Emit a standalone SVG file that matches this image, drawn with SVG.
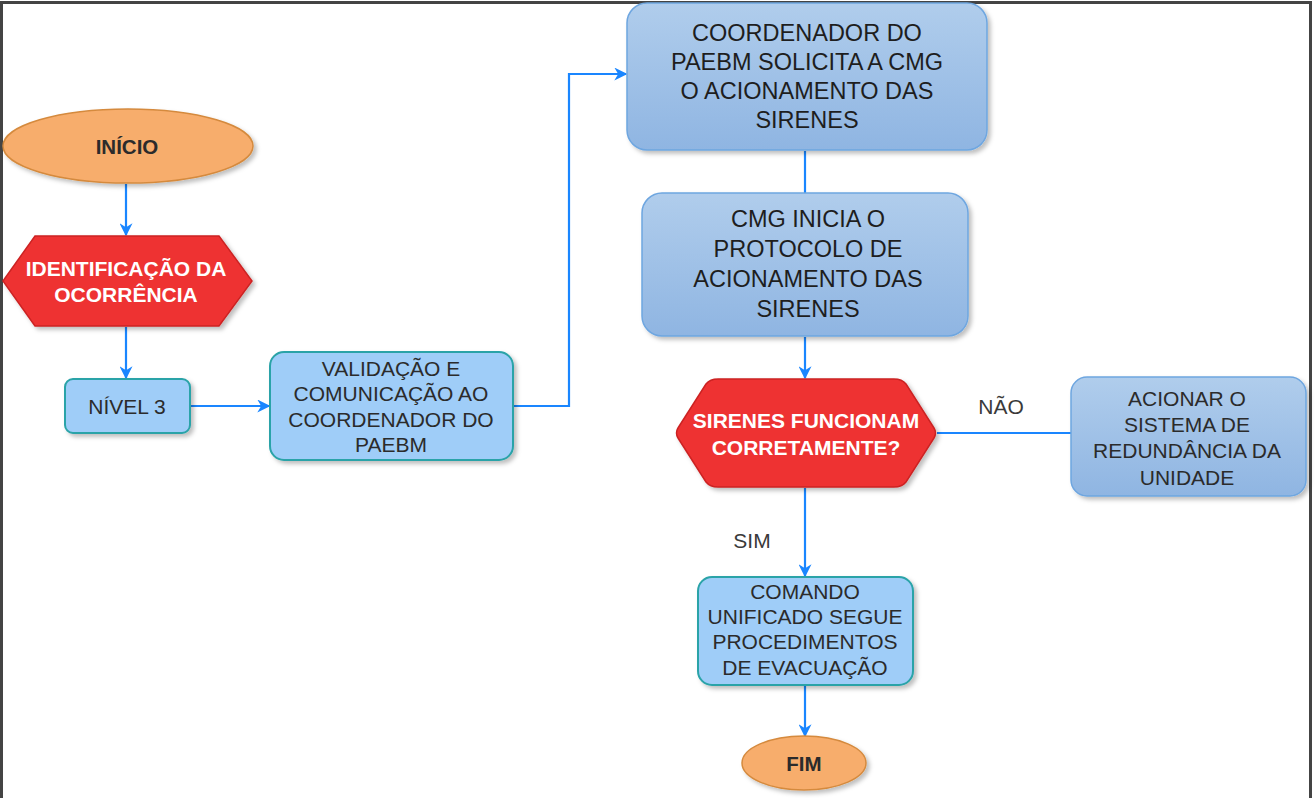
<svg xmlns="http://www.w3.org/2000/svg" width="1315" height="798" viewBox="0 0 1315 798">
<style>
text{font-family:"Liberation Sans",Arial,sans-serif;text-anchor:middle}
.t{fill:#2b2b2b;font-size:21px}
.tb{fill:#1e1e1e;font-size:23.5px}
.w{fill:#ffffff;font-size:21px;font-weight:bold}
.k{fill:#2b2b2b;font-size:20.5px;font-weight:bold}
.lb{fill:#3a3a3a;font-size:21px}
.conn{fill:none;stroke:#1a86ff;stroke-width:2.2}
.lt{fill:#9fcdf8;stroke:#2aa3a8;stroke-width:2}
.dk{fill:url(#g);stroke:#6ea6e0;stroke-width:1.5}
.or{fill:#f7ad6c;stroke:#d58a3e;stroke-width:1.5}
.rd{fill:#ee3333;stroke:#cc2222;stroke-width:1.5}
</style>
<defs>
<linearGradient id="g" x1="0" y1="0" x2="0" y2="1"><stop offset="0" stop-color="#b0cdec"/><stop offset="1" stop-color="#8fb5e2"/></linearGradient>
<filter id="sh" x="-10%" y="-10%" width="125%" height="130%"><feDropShadow dx="3" dy="3" stdDeviation="2" flood-color="#000" flood-opacity="0.25"/></filter>
<marker id="a" viewBox="0 0 10 10" refX="9" refY="5" markerWidth="13" markerHeight="13" markerUnits="userSpaceOnUse" orient="auto"><path d="M0,0 L10,5 L0,10 L3,5 Z" fill="#1a86ff"/></marker>
</defs>
<rect x="0" y="0" width="1315" height="798" fill="#ffffff"/>
<path d="M1.5,798 V2.5 H1310.5 V798" fill="none" stroke="#444" stroke-width="3"/>
<g id="connectors">
<path class="conn" d="M126,184 V235" marker-end="url(#a)"/>
<path class="conn" d="M126,327 V378" marker-end="url(#a)"/>
<path class="conn" d="M191,406 H269" marker-end="url(#a)"/>
<path class="conn" d="M514,406 H569 V74 H626" marker-end="url(#a)"/>
<path class="conn" d="M805,151 V193"/>
<path class="conn" d="M805,337 V378" marker-end="url(#a)"/>
<path class="conn" d="M937,433 H1071"/>
<path class="conn" d="M805,488 V576" marker-end="url(#a)"/>
<path class="conn" d="M805,686 V736" marker-end="url(#a)"/>
<text class="lb" x="1001" y="414">NÃO</text>
<text class="lb" x="752" y="548">SIM</text>
</g>
<g id="inicio">
<ellipse class="or" cx="128" cy="146" rx="125" ry="37" filter="url(#sh)"/>
<text class="k" x="127" y="154">INÍCIO</text>
</g>
<g id="identificacao">
<path class="rd" d="M3,281 L35,236 H219 L252,281 L219,326 H35 Z" filter="url(#sh)"/>
<text class="w" x="126" y="276">IDENTIFICAÇÃO DA</text>
<text class="w" x="126" y="302">OCORRÊNCIA</text>
</g>
<g id="nivel3">
<rect class="lt" x="65" y="379" width="125" height="54" rx="8" filter="url(#sh)"/>
<text class="t" x="127" y="414">NÍVEL 3</text>
</g>
<g id="validacao">
<rect class="lt" x="270" y="352" width="243" height="108" rx="14" filter="url(#sh)"/>
<text class="t" x="391" y="376">VALIDAÇÃO E</text>
<text class="t" x="391" y="401">COMUNICAÇÃO AO</text>
<text class="t" x="391" y="427">COORDENADOR DO</text>
<text class="t" x="391" y="452">PAEBM</text>
</g>
<g id="coordenador">
<rect class="dk" x="627" y="3" width="360" height="147" rx="20" filter="url(#sh)"/>
<text class="tb" x="807" y="41">COORDENADOR DO</text>
<text class="tb" x="807" y="70">PAEBM SOLICITA A CMG</text>
<text class="tb" x="807" y="99">O ACIONAMENTO DAS</text>
<text class="tb" x="807" y="128">SIRENES</text>
</g>
<g id="cmg">
<rect class="dk" x="642" y="193" width="326" height="143" rx="20" filter="url(#sh)"/>
<text class="tb" x="808" y="227">CMG INICIA O</text>
<text class="tb" x="808" y="257">PROTOCOLO DE</text>
<text class="tb" x="808" y="287">ACIONAMENTO DAS</text>
<text class="tb" x="808" y="317">SIRENES</text>
</g>
<g id="sirenes">
<path class="rd" d="M678,428 L706,384 Q710,379 718,379 H894 Q902,379 906,384 L934,428 Q937,433 934,438 L906,482 Q902,487 894,487 H718 Q710,487 706,482 L678,438 Q675,433 678,428 Z" filter="url(#sh)"/>
<text class="w" x="806" y="428">SIRENES FUNCIONAM</text>
<text class="w" x="806" y="455">CORRETAMENTE?</text>
</g>
<g id="acionar">
<rect class="dk" x="1071" y="377" width="235" height="119" rx="16" filter="url(#sh)"/>
<text class="t" x="1187" y="406">ACIONAR O</text>
<text class="t" x="1187" y="432">SISTEMA DE</text>
<text class="t" x="1187" y="458">REDUNDÂNCIA DA</text>
<text class="t" x="1187" y="485">UNIDADE</text>
</g>
<g id="comando">
<rect class="lt" x="698" y="577" width="215" height="108" rx="14" filter="url(#sh)"/>
<text class="t" x="805" y="599">COMANDO</text>
<text class="t" x="805" y="624">UNIFICADO SEGUE</text>
<text class="t" x="805" y="649">PROCEDIMENTOS</text>
<text class="t" x="805" y="675">DE EVACUAÇÃO</text>
</g>
<g id="fim">
<ellipse class="or" cx="804" cy="763" rx="62" ry="27" filter="url(#sh)"/>
<text class="k" x="804" y="771">FIM</text>
</g>
</svg>
